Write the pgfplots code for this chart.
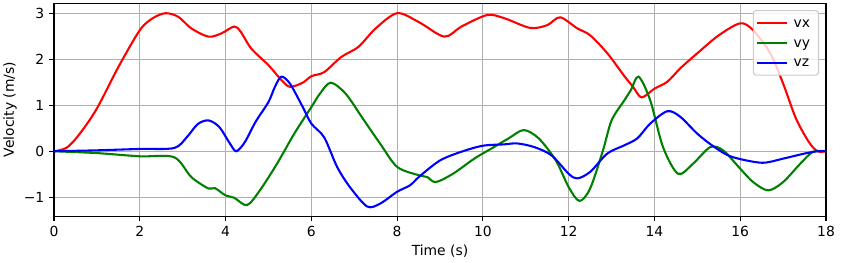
\documentclass[border=0pt]{standalone}
\usepackage{pgfplots}
\pgfplotsset{compat=1.18}
\usepackage{fontspec}
\setmainfont{DejaVu Sans}
\definecolor{mplgreen}{rgb}{0,0.5,0}
\definecolor{gridgray}{HTML}{B0B0B0}
\begin{document}
\fontsize{10}{12}\selectfont
\begin{tikzpicture}
\begin{axis}[
  scale only axis, width=555.8pt, height=153.4pt,
  xmin=0, xmax=18, ymin=-1.41, ymax=3.22,
  xtick={0,2,...,18}, ytick={-1,0,1,2,3},
  yticklabels={−1,0,1,2,3},
  /pgf/number format/assume math mode=true,
  tick pos=left, tick align=outside, major tick length=3.5pt,
  tick style={black, line width=0.8pt},
  axis line style={line width=0.8pt},
  grid=major, major grid style={gridgray, line width=0.8pt},
  xlabel={Time (s)}, ylabel={Velocity (m/s)},
  xlabel style={at={(axis description cs:0.5,-0.164)}, anchor=center},
  ylabel style={at={(axis description cs:-0.057,0.5)}, anchor=center},
  ticklabel style={font=\fontsize{10}{12}\selectfont},
  label style={font=\fontsize{10}{12}\selectfont},
  legend style={at={(axis description cs:0.991,0.967)}, anchor=north east,
    draw=black!20, line width=0.8pt, rounded corners=2pt, font=\fontsize{10}{12}\selectfont,
    fill=white, fill opacity=0.8, draw opacity=1, text opacity=1,
    inner xsep=2pt, inner ysep=3.5pt, row sep=3.2pt,
    nodes={inner xsep=4pt, inner ysep=1pt, text height=7.5pt, text depth=1.5pt}},
  legend cell align=left,
  legend image code/.code={\draw[#1, line width=1.5pt] (0pt,0pt) -- (21.6pt,0pt);},
  every axis plot/.append style={line width=1.5pt, smooth, tension=0.5},
]
\addplot[red] coordinates {(0,0) (0.3,0.08) (0.6,0.38) (1,0.93) (1.5,1.83) (2,2.63) (2.3,2.89) (2.6,3.0) (2.9,2.92) (3.2,2.67) (3.6,2.49) (3.9,2.56) (4.2,2.71) (4.35,2.6) (4.6,2.23) (5.0,1.87) (5.3,1.55) (5.5,1.40) (5.8,1.49) (6.0,1.63) (6.3,1.72) (6.7,2.05) (7.1,2.27) (7.5,2.67) (8.0,3.0) (8.5,2.81) (9.1,2.49) (9.5,2.71) (10.1,2.96) (10.5,2.89) (11.1,2.68) (11.5,2.74) (11.8,2.91) (12.2,2.67) (12.5,2.52) (12.9,2.13) (13.3,1.63) (13.5,1.40) (13.7,1.17) (14.0,1.36) (14.3,1.51) (14.6,1.80) (15.0,2.13) (15.5,2.52) (16.0,2.78) (16.3,2.63) (16.7,2.13) (17.0,1.47) (17.3,0.71) (17.6,0.20) (17.8,0) (18,0)};
\addlegendentry{vx}
\addplot[mplgreen] coordinates {(0,0) (1,-0.04) (2,-0.11) (2.8,-0.13) (3.2,-0.56) (3.6,-0.81) (3.75,-0.80) (4.0,-0.96) (4.2,-1.01) (4.5,-1.17) (4.8,-0.85) (5.2,-0.27) (5.6,0.38) (6.0,0.96) (6.2,1.25) (6.45,1.49) (6.8,1.25) (7.2,0.71) (7.6,0.17) (8.0,-0.34) (8.5,-0.52) (8.7,-0.56) (8.9,-0.67) (9.3,-0.49) (9.8,-0.16) (10.2,0.06) (10.6,0.28) (10.95,0.46) (11.3,0.28) (11.7,-0.20) (12.0,-0.78) (12.25,-1.08) (12.5,-0.81) (12.8,0.02) (13.0,0.67) (13.3,1.11) (13.45,1.33) (13.63,1.62) (13.9,1.11) (14.2,0.09) (14.55,-0.49) (14.9,-0.27) (15.3,0.09) (15.6,0.02) (16.0,-0.38) (16.3,-0.67) (16.65,-0.85) (17.0,-0.67) (17.4,-0.27) (17.7,-0.01) (18,0)};
\addlegendentry{vy}
\addplot[blue] coordinates {(0,0) (1,0.02) (2,0.05) (2.8,0.07) (3.1,0.31) (3.35,0.59) (3.6,0.67) (3.85,0.53) (4.1,0.17) (4.25,0.0) (4.45,0.2) (4.7,0.64) (5.0,1.07) (5.15,1.40) (5.3,1.62) (5.5,1.47) (5.8,0.96) (6.0,0.60) (6.3,0.30) (6.6,-0.34) (6.9,-0.78) (7.3,-1.20) (7.6,-1.14) (8.0,-0.88) (8.3,-0.74) (8.53,-0.54) (9.0,-0.20) (9.5,-0.01) (10.0,0.12) (10.5,0.15) (10.8,0.17) (11.2,0.09) (11.6,-0.09) (12.0,-0.49) (12.2,-0.59) (12.5,-0.45) (12.9,-0.05) (13.3,0.13) (13.6,0.28) (13.9,0.60) (14.3,0.87) (14.6,0.75) (15.0,0.38) (15.4,0.09) (15.8,-0.12) (16.5,-0.25) (17.0,-0.16) (17.5,-0.05) (17.8,0) (18,0)};
\addlegendentry{vz}
\end{axis}
\pgfresetboundingbox
\path[use as bounding box] (-38.9pt,-33.1pt) rectangle (567.3pt,155.6pt);
\end{tikzpicture}
\end{document}
